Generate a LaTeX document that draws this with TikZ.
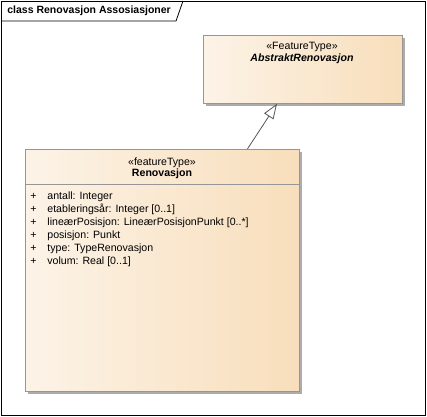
\documentclass[tikz,border=0pt]{standalone}
\usepackage{fontspec}
\setmainfont{Liberation Sans}
\usetikzlibrary{arrows.meta,shadows}

\definecolor{boxleft}{RGB}{252,243,231}
\definecolor{boxright}{RGB}{248,222,187}
\definecolor{boxline}{RGB}{150,150,150}
\definecolor{shadowgray}{RGB}{172,172,172}
\definecolor{linkgray}{RGB}{85,85,85}

\begin{document}
\begin{tikzpicture}[x=1bp, y=-1bp, line width=0.8bp,
  every node/.style={font=\fontsize{10.6bp}{13bp}\selectfont, inner sep=0pt},
  classbox/.style={rectangle, draw=boxline, left color=boxleft, right color=boxright,
    anchor=north west,
    drop shadow={shadow xshift=3bp, shadow yshift=-3bp, opacity=1, fill=shadowgray}},
  attr/.style={anchor=base west}]
  \useasboundingbox (0,0) rectangle (427,417);

  % Frame with title tab
  \draw (1,1) rectangle (425.5,415);
  \draw (1,21) -- (176,21) -- (183,1);
  \node[anchor=west, font=\bfseries\fontsize{10.5bp}{13bp}\selectfont] (title) at (7,11) {class Renovasjon Assosiasjoner};

  % Abstract class
  \node[classbox, minimum width=199bp, minimum height=68bp] (abstr) at (203,35) {};
  \node (abstrst) at (302,47) {«FeatureType»};
  \node[font=\bfseries\itshape\fontsize{10.6bp}{13bp}\selectfont] (abstrname) at (302,59) {AbstraktRenovasjon};

  % Feature class
  \node[classbox, minimum width=274bp, minimum height=242bp] (renov) at (25,149) {};
  \node (renovst) at (162,163) {«featureType»};
  \node[font=\bfseries\fontsize{10.6bp}{13bp}\selectfont] (renovname) at (162,174) {Renovasjon};
  \draw[boxline] (renov.west |- 0,184) -- (renov.east |- 0,184);

  % Attributes
  \foreach \i/\txt in {0/{antall: Integer},
                       1/{etableringsår: Integer [0..1]},
                       2/{lineærPosisjon: LineærPosisjonPunkt [0..*]},
                       3/{posisjon: Punkt},
                       4/{type: TypeRenovasjon},
                       5/{volum: Real [0..1]}} {
    \node[attr] (plus\i) at (30,199+13*\i) {+};
    \node[attr] (attr\i) at (47,199+13*\i) {\txt};
  }

  % Generalization
  \draw[linkgray, -{Triangle[open, length=15bp, width=11bp, fill=white]}] (renov.55) -- (abstr.233.7);
\end{tikzpicture}
\end{document}
